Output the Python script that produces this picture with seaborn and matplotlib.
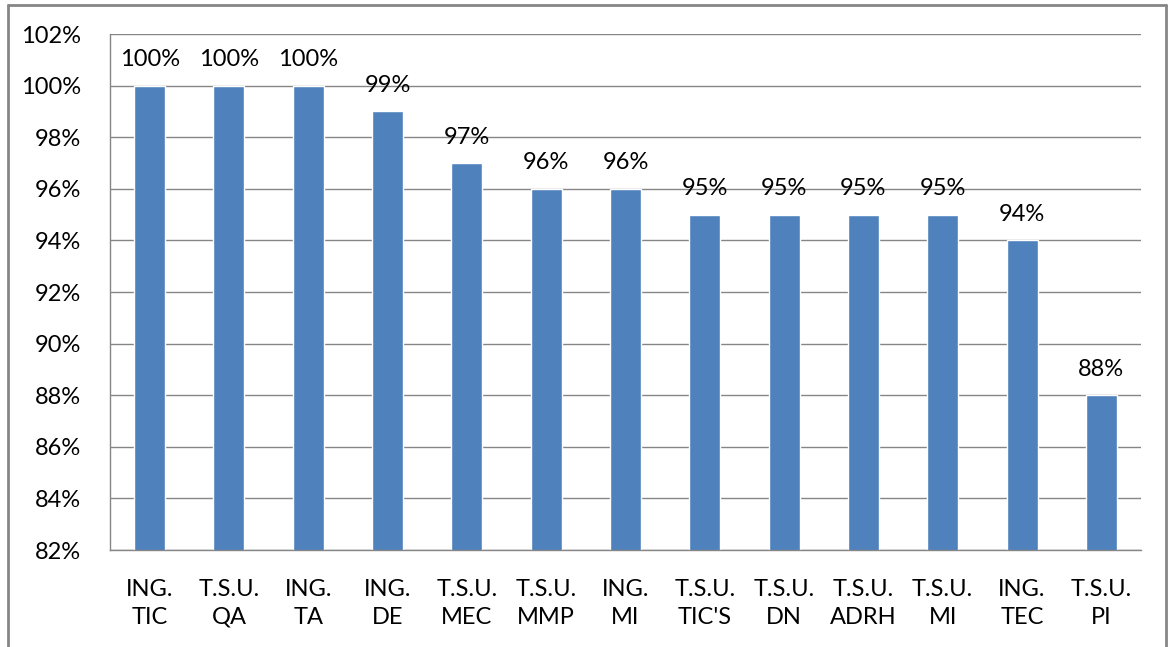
import matplotlib
matplotlib.use("Agg")
import matplotlib.pyplot as plt
import seaborn as sns
import pandas as pd
from matplotlib.lines import Line2D
from matplotlib.ticker import FixedLocator, FuncFormatter

categories = ["ING.\nTIC", "T.S.U.\nQA", "ING.\nTA", "ING.\nDE", "T.S.U.\nMEC", "T.S.U.\nMMP",
              "ING.\nMI", "T.S.U.\nTIC'S", "T.S.U.\nDN", "T.S.U.\nADRH", "T.S.U.\nMI",
              "ING.\nTEC", "T.S.U.\nPI"]
values = [100, 100, 100, 99, 97, 96, 96, 95, 95, 95, 95, 94, 88]
yticks = list(range(82, 103, 2))

df = pd.DataFrame({"cat": categories, "val": values})

sns.set_style("white")
plt.rcParams['font.family'] = ['Lato', 'DejaVu Sans']
FS = 17

fig = plt.figure(figsize=(11.69, 6.47), dpi=100)
ax = fig.add_axes([110/1169, 1 - 550/647, (1141-110)/1169, (550-34)/647])

sns.barplot(data=df, x="cat", y="val", color="#4F81BD", width=0.39, ax=ax,
            saturation=1, bottom=0)
ax.set_ylim(82, 102)
ax.set_xlim(-0.5, len(categories) - 0.5)
ax.yaxis.set_major_locator(FixedLocator(yticks))
ax.yaxis.set_major_formatter(FuncFormatter(lambda v, p: f"{int(v)}%"))
ax.grid(axis="y", color="#868686", linewidth=1)
ax.set_axisbelow(True)
ax.set_xlabel("")
ax.set_ylabel("")
for s in ["top", "right"]:
    ax.spines[s].set_visible(False)
for s in ["left", "bottom"]:
    ax.spines[s].set_color("#868686")
    ax.spines[s].set_linewidth(1)

ax.set_xticks([i - 0.5 for i in range(len(categories) + 1)], minor=True)
ax.tick_params(axis="x", which="major", length=0, pad=21, labelsize=FS, colors="#000000")
ax.tick_params(axis="x", which="minor", length=8, color="#868686", direction="out")
ax.tick_params(axis="y", length=9, color="#868686", direction="out", labelsize=FS, pad=12,
               labelcolor="#000000")
for lbl in ax.get_xticklabels():
    lbl.set_linespacing(1.4)

for i, v in enumerate(values):
    ax.text(i, v + 0.6, f"{v}%", ha="center", va="bottom", fontsize=FS, color="#000000")

W, H = 1169, 647
for xs, ys in [((8, 8), (5, 660)), ((8, 1166), (5, 5)), ((1166, 1166), (5, 660))]:
    fig.add_artist(Line2D([x / W for x in xs], [1 - y / H for y in ys],
                          transform=fig.transFigure, color="#868686", linewidth=2))

fig.savefig("out.png", dpi=100)
